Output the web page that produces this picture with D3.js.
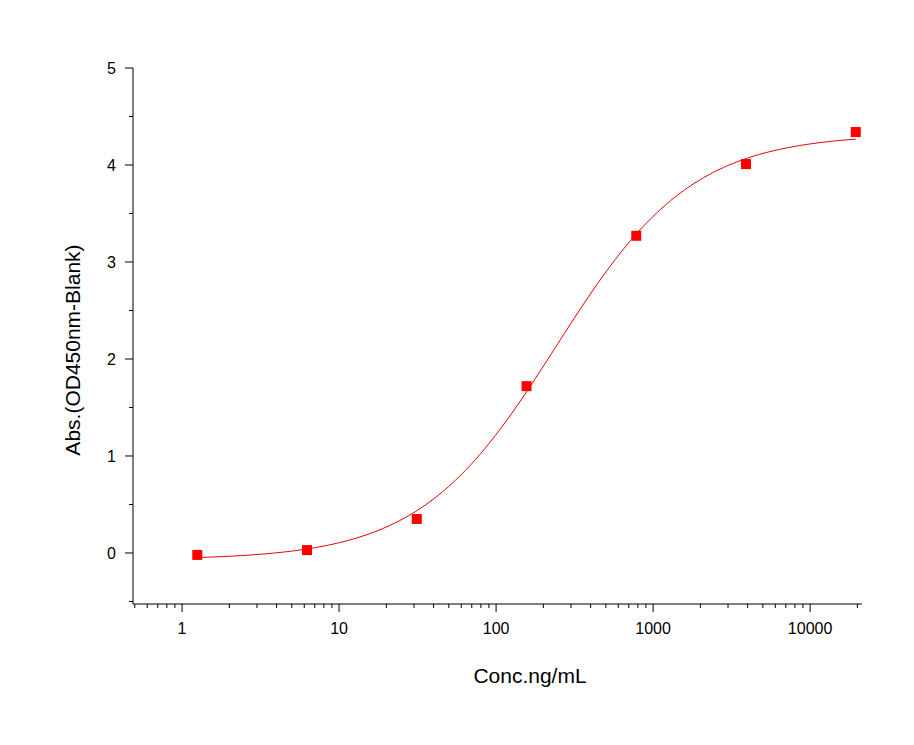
<!DOCTYPE html><html><head><meta charset="utf-8">
<script src="https://cdn.jsdelivr.net/npm/d3@7"></script>
<style>body{margin:0;background:#fff}text{font-family:"Liberation Sans",Arial,sans-serif}</style></head><body>
<svg id="c" width="914" height="745"></svg>
<script>
const conc=[1.25,6.25,31.25,156.25,781.25,3906.25,19531.25];
const absVals=[-0.02,0.03,0.35,1.72,3.27,4.01,4.34];
const fitParams=[-0.07,4.32,240,1.0]; // bottom, top, EC50, hill
const xTicks=[1,10,100,1000,10000];
const yTicks=[0,1,2,3,4,5];
const svg=d3.select("#c");
const x=d3.scaleLog().domain([0.487,21400]).range([133,862]);
const y=d3.scaleLinear().domain([-0.526,5]).range([604,68]);
const ax=svg.append("g").attr("transform","translate(0,604)");
ax.append("line").attr("x1",133).attr("x2",862).attr("stroke","#000");
const minors=[];for(let e=-1;e<5;e++)for(let m=1;m<10;m++){const v=m*Math.pow(10,e);if(v>=0.487&&v<=21400)minors.push(v);}
minors.forEach(v=>{const big=xTicks.includes(v);ax.append("line").attr("x1",x(v)).attr("x2",x(v)).attr("y1",0).attr("y2",big?8:4).attr("stroke","#000");});
xTicks.forEach(v=>ax.append("text").attr("x",x(v)).attr("y",30).attr("text-anchor","middle").attr("font-size",16).text(v));
const ay=svg.append("g").attr("transform","translate(133,0)");
ay.append("line").attr("y1",68).attr("y2",604).attr("stroke","#000");
for(let v=-0.5;v<=5.001;v+=0.5){const big=Math.abs(v-Math.round(v))<1e-6;ay.append("line").attr("x1",big?-8:-4).attr("x2",0).attr("y1",y(v)).attr("y2",y(v)).attr("stroke","#000");}
yTicks.forEach(v=>ay.append("text").attr("x",-17).attr("y",y(v)+6).attr("text-anchor","end").attr("font-size",16).text(v));
svg.append("text").attr("x",530).attr("y",683).attr("text-anchor","middle").attr("font-size",21).text("Conc.ng/mL");
svg.append("text").attr("transform","translate(80,350) rotate(-90)").attr("text-anchor","middle").attr("font-size",21).text("Abs.(OD450nm-Blank)");
const [A,D,C,B]=fitParams;
const cx=d3.range(0,200).map(i=>Math.pow(10,Math.log10(1.25)+i/199*(Math.log10(19531.25)-Math.log10(1.25))));
svg.append("path").attr("d",d3.line().x(v=>x(v)).y(v=>y(D+(A-D)/(1+Math.pow(v/C,B))))(cx)).attr("fill","none").attr("stroke","#e00000").attr("stroke-width",1);
svg.selectAll("rect.p").data(conc).enter().append("rect").attr("x",(d)=>x(d)-5).attr("y",(d,i)=>y(absVals[i])-5).attr("width",10).attr("height",10).attr("fill","#ff0000");
</script></body></html>
